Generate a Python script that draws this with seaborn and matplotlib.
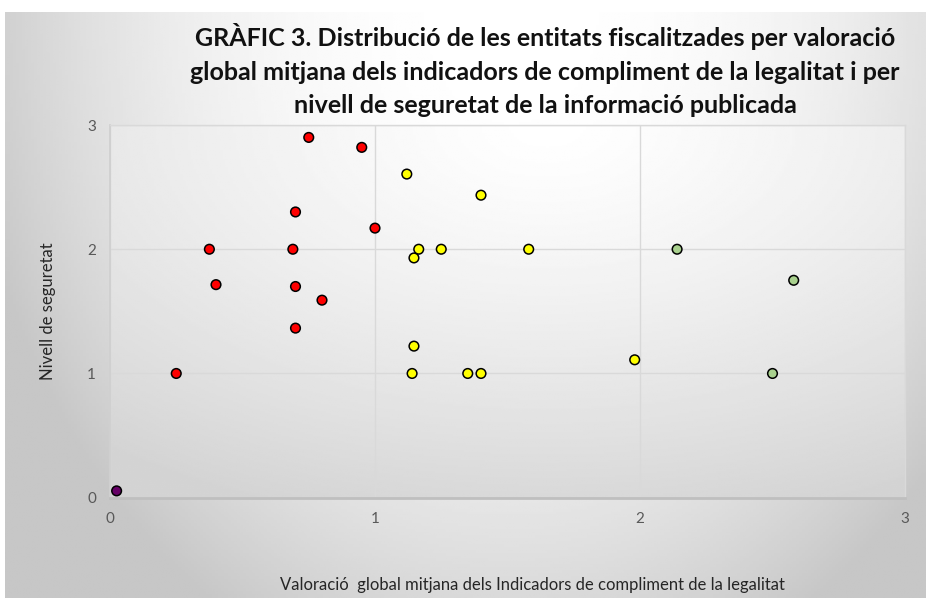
import matplotlib
matplotlib.use("Agg")
import matplotlib.pyplot as plt
import seaborn as sb
import pandas as pd
import numpy as np

# valors llegits del grafic
vermell_x = [0.75, 0.95, 0.70, 1.00, 0.375, 0.69, 0.40, 0.70, 0.80, 0.70, 0.25]
vermell_y = [2.90, 2.82, 2.30, 2.17, 2.00, 2.00, 1.715, 1.70, 1.59, 1.365, 1.00]
groc_x = [1.12, 1.40, 1.165, 1.25, 1.147, 1.147, 1.14, 1.35, 1.40, 1.58, 1.98]
groc_y = [2.605, 2.435, 2.00, 2.00, 1.93, 1.22, 1.00, 1.00, 1.00, 2.00, 1.11]
verd_x = [2.14, 2.58, 2.50]
verd_y = [2.00, 1.75, 1.00]
lila_x = [0.025]
lila_y = [0.055]

titol = ("GRÀFIC 3. Distribució de les entitats fiscalitzades per valoració\n"
         "global mitjana dels indicadors de compliment de la legalitat i per\n"
         "nivell de seguretat de la informació publicada")
etiqueta_x = "Valoració  global mitjana dels Indicadors de compliment de la legalitat"
etiqueta_y = "Nivell de seguretat"

df = pd.DataFrame({
    "x": vermell_x + groc_x + verd_x + lila_x,
    "y": vermell_y + groc_y + verd_y + lila_y,
    "grup": ["vermell"] * len(vermell_x) + ["groc"] * len(groc_x)
            + ["verd"] * len(verd_x) + ["lila"] * len(lila_x),
})
colors = {"vermell": "#FF0000", "groc": "#FFFF00", "verd": "#A9D18E", "lila": "#660066"}

sb.set_style("white")
plt.rcParams["font.family"] = ["Lato", "DejaVu Sans"]

fig = plt.figure(figsize=(9.31, 5.98), dpi=100)

# fons del grafic (degradat)
bg = fig.add_axes([0, 0, 1, 1], zorder=-10)
bg.set_axis_off()
gx, gy = np.meshgrid(np.linspace(0, 1, 300), np.linspace(0, 1, 200))
d = np.sqrt(((gx - 0.55) / 0.6) ** 2 + ((gy - 0.0) / 1.2) ** 2)
grad = 1 - 0.22 * np.clip(d, 0, 1) ** 2.2
bg.imshow(grad, cmap="gray", vmin=0, vmax=1, extent=[5 / 931, 926 / 931, 0, 1 - 12 / 598],
          aspect="auto", origin="upper")
bg.set_xlim(0, 1)
bg.set_ylim(0, 1)

ax = fig.add_axes([110 / 931, 1 - 497.7 / 598, 795 / 931, 372.7 / 598])
ax.set_facecolor("none")
px, py = np.meshgrid(np.linspace(0, 1, 300), np.linspace(0, 1, 200))
dp = np.sqrt(((px - 0.55) / 0.9) ** 2 + ((py - 0.0) / 1.1) ** 2)
grad2 = 1 - 0.17 * np.clip(dp, 0, 1) ** 1.3
ax.imshow(grad2, cmap="gray", vmin=0, vmax=1, extent=[0, 1, 0, 1], transform=ax.transAxes,
          aspect="auto", origin="upper", zorder=0)

sb.scatterplot(data=df, x="x", y="y", hue="grup", palette=colors, s=48,
               edgecolor="black", linewidth=1.1, legend=False, ax=ax, zorder=5)

ax.set_xlim(0, 3)
ax.set_ylim(0, 3)
ax.set_xticks([0, 1, 2, 3])
ax.set_yticks([0, 1, 2, 3])
ax.grid(True, color="#d9d9d9", linewidth=1.0, zorder=1)
ax.set_axisbelow(True)
for lado, ample, col in [("bottom", 2.0, "#bfbfbf"), ("left", 1.3, "#d0d0d0"),
                         ("top", 1.0, "#d9d9d9"), ("right", 1.0, "#d9d9d9")]:
    ax.spines[lado].set_visible(True)
    ax.spines[lado].set_linewidth(ample)
    ax.spines[lado].set_color(col)
ax.tick_params(axis="both", length=0, labelsize=11, colors="#595959", pad=10)
ax.set_xlabel(etiqueta_x, fontsize=12, color="#262626")
ax.set_ylabel(etiqueta_y, fontsize=12, color="#262626")
ax.xaxis.set_label_coords((532 - 110) / 795, -(585 - 497.7) / 372.7)
ax.yaxis.set_label_coords(-(110 - 48) / 795, 0.5)
ax.xaxis.label.set_va("center")
ax.yaxis.label.set_va("center")

fig.text(545 / 931, 1 - 70 / 598, titol, ha="center", va="center", fontsize=18,
         fontweight="bold", color="#111111", linespacing=1.55)

fig.savefig("out.png", dpi=100)
